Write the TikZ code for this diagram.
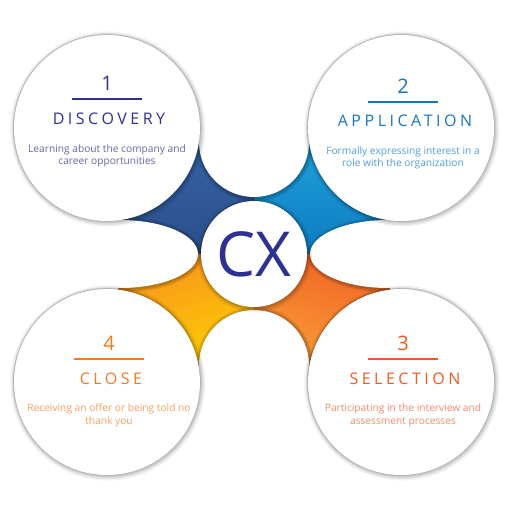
\documentclass[tikz,border=0pt]{standalone}
\usepackage{fontspec}
\setmainfont{Open Sans}
\usetikzlibrary{positioning,shapes.geometric}

\definecolor{disccol}{RGB}{46,49,146}
\definecolor{disclite}{RGB}{102,102,172}
\definecolor{applcol}{RGB}{27,117,188}
\definecolor{appllite}{RGB}{80,158,214}
\definecolor{selcol}{RGB}{241,90,36}
\definecolor{sellite}{RGB}{244,137,110}
\definecolor{closecol}{RGB}{244,123,32}
\definecolor{closelite}{RGB}{248,160,100}

\tikzset{
  softshadow/.style={
    preaction={draw=black, draw opacity=.05, line width=9pt, transform canvas={shift={(.8pt,-1pt)}}},
    preaction={draw=black, draw opacity=.07, line width=6pt, transform canvas={shift={(.8pt,-1pt)}}},
    preaction={draw=black, draw opacity=.10, line width=3.5pt, transform canvas={shift={(.5pt,-.6pt)}}},
    preaction={draw=black, draw opacity=.12, line width=1.6pt}},
  bigdisc/.style={circle, fill=white, inner sep=0pt, minimum size=186pt, softshadow},
  gapdisc/.style={circle, fill=white, inner sep=0pt, minimum size=110pt},
  gapoval/.style={ellipse, fill=white, inner sep=0pt, minimum width=156pt, minimum height=68pt},
  hubdisc/.style={circle, fill=white, inner sep=0pt, minimum size=106pt, softshadow},
  stepnum/.style={font=\fontsize{20}{20}\selectfont, anchor=south,
    minimum width=70pt, inner xsep=0pt, inner ysep=8pt, text depth=0pt},
  steptitle/.style={font=\fontsize{16}{16}\selectfont\addfontfeature{LetterSpace=22},
    anchor=base, inner sep=0pt},
  stepdesc/.style={font=\fontsize{10.2}{12.5}\selectfont, align=center,
    anchor=base, inner sep=0pt},
  stepline/.style={line width=1.3pt}
}

\begin{document}
\begin{tikzpicture}[x=1pt, y=-1pt]
    \useasboundingbox (0,0) rectangle (509,510);
    % coloured quarters behind the discs
    \begin{scope}
        \clip (118,134) rectangle (390,376);
        \shade[top color={rgb,255:red,56;green,100;blue,170},
               bottom color={rgb,255:red,42;green,78;blue,136}] (118,134) rectangle (254,254);
        \shade[top color={rgb,255:red,36;green,162;blue,220},
               bottom color={rgb,255:red,12;green,124;blue,192}] (254,134) rectangle (390,254);
        \shade[top color={rgb,255:red,242;green,98;blue,36},
               bottom color={rgb,255:red,248;green,164;blue,58},
               shading angle=-15] (254,254) rectangle (390,376);
        \shade[top color={rgb,255:red,247;green,146;blue,30},
               bottom color={rgb,255:red,255;green,212;blue,0},
               shading angle=20] (118,254) rectangle (254,376);
        % shadows of the gap shapes
        \foreach \w in {1,2,3,4} {
            \fill[black, opacity=.07, shift={(.6,.8)}] (254,142) circle ({55+\w});
            \fill[black, opacity=.07, shift={(.6,.8)}] (254,365) circle ({55+\w});
            \fill[black, opacity=.07, shift={(.6,.8)}] (120,254) ellipse ({78+\w} and {34+\w});
            \fill[black, opacity=.07, shift={(.6,.8)}] (388,254) ellipse ({78+\w} and {34+\w});
        }
    \end{scope}

    \node[gapdisc] (top) at (254,142) {};
    \node[gapoval] (left) at (120,254) {};
    \node[gapoval] (right) at (388,254) {};
    \node[gapdisc] (bottom) at (254,365) {};
    \node[hubdisc] (hub) at (254,254) {};
    \node[font=\fontsize{62}{62}\selectfont, text=disccol] (cx) at (hub) {CX};

    % the four steps
    \node[bigdisc] (d1) at (107,128) {};
    \node[bigdisc] (d2) at (401,128) {};
    \node[bigdisc] (d3) at (401,382) {};
    \node[bigdisc] (d4) at (107,382) {};

    % 1
    \node[stepnum, text=disccol] (n1) at (107,99) {1};
    \draw[stepline, disccol] (n1.south west) -- (n1.south east);
    \node[steptitle, text=disccol] (t1) at (109,125) {DISCOVERY};
    \node[stepdesc, text=disclite] (s1) at (107,165)
        {Learning about the company and\\career opportunities};

    % 2
    \node[stepnum, text=applcol] (n2) at (403,102) {2};
    \draw[stepline, applcol] (n2.south west) -- (n2.south east);
    \node[steptitle, text=applcol] (t2) at (405,127) {APPLICATION};
    \node[stepdesc, text=appllite] (s2) at (403,167)
        {Formally expressing interest in a\\role with the organization};

    % 3
    \node[stepnum, text=selcol] (n3) at (403,359) {3};
    \draw[stepline, selcol] (n3.south west) -- (n3.south east);
    \node[steptitle, text=selcol] (t3) at (405,384) {SELECTION};
    \node[stepdesc, text=sellite] (s3) at (403,424)
        {Participating in the interview and\\assessment processes};

    % 4
    \node[stepnum, text=closecol] (n4) at (109,359) {4};
    \draw[stepline, closecol] (n4.south west) -- (n4.south east);
    \node[steptitle, text=closecol] (t4) at (111,384) {CLOSE};
    \node[stepdesc, text=closelite] (s4) at (109,424)
        {Receiving an offer or being told no\\thank you};
\end{tikzpicture}
\end{document}
